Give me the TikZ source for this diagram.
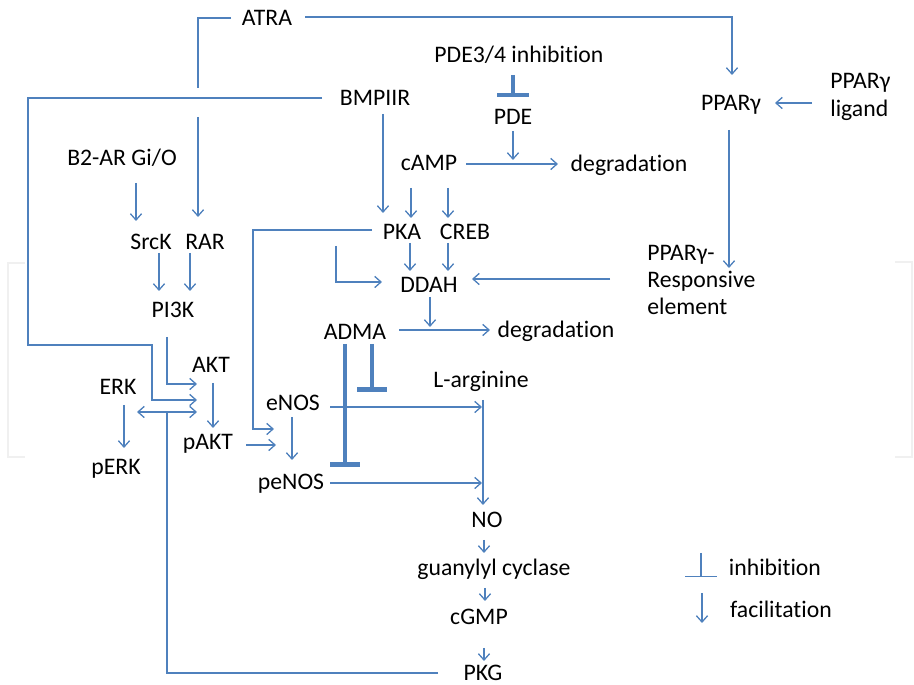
\documentclass[tikz,border=0pt]{standalone}
\usepackage{fontspec}
\setmainfont{Carlito}[Ligatures=NoCommon]
\usepackage{tikz}
\usetikzlibrary{calc,arrows.meta,positioning}
\definecolor{linkblue}{HTML}{4F81BD}
\tikzset{
  lbl/.style={inner sep=0pt, text height=11pt, text depth=3pt,
              font=\fontsize{13.5}{15.6}\selectfont},
  lbls/.style={inner sep=0pt, align=left, font=\fontsize{13.5}{15.6}\selectfont},
  lnk/.style={draw=linkblue, line width=0.75pt},
  fac/.style={lnk, -{Straight Barb[length=3.6pt,width=6.4pt]}},
  facb/.style={lnk, {Straight Barb[length=3.6pt,width=6.4pt]}-{Straight Barb[length=3.6pt,width=6.4pt]}},
  inh/.style={draw=linkblue, line width=2.6pt, -{Bar[width=17pt]}},
}
\begin{document}
\begin{tikzpicture}[x=0.02cm, y=-0.02cm]
    \useasboundingbox (0,0) rectangle (914,685);
    % faint brackets at the sides
    \draw[gray!12, line width=1.7pt] (25,263) -- (8,263) -- (8,457) -- (25,457);
    \draw[gray!12, line width=1.7pt] (895,262) -- (912,262) -- (912,457) -- (895,457);
    % Labels
    \node[lbl] (atra)   at (267,18)  {ATRA};
    \node[lbl] (pdeinh) at (519,55)  {PDE3/4 inhibition};
    \node[lbl] (bmp)    at (375,98)  {BMPIIR};
    \node[lbl] (pde)    at (513,117) {PDE};
    \node[lbl] (ppar)   at (731,103) {PPARγ};
    \node[lbls,anchor=west] (lig) at (830,97) {PPARγ\\ligand};
    \node[lbl] (camp)   at (429,163) {cAMP};
    \node[lbl] (deg1)   at (629,164) {degradation};
    \node[lbl] (b2ar)   at (122,158) {B2-AR Gi/O};
    \node[lbl] (srck)   at (151,242) {SrcK};
    \node[lbl] (rar)    at (205,242) {RAR};
    \node[lbl] (pka)    at (402,232) {PKA};
    \node[lbl] (creb)   at (465,232) {CREB};
    \node[lbls,anchor=west] (ppre) at (647,280) {PPARγ-\\Responsive\\element};
    \node[lbl] (ddah)   at (429,285) {DDAH};
    \node[lbl] (pi3k)   at (173,310) {PI3K};
    \node[lbl] (adma)   at (355,332) {ADMA};
    \node[lbl] (deg2)   at (556,330) {degradation};
    \node[lbl] (akt)    at (211,365) {AKT};
    \node[lbl] (larg)   at (481,380) {L-arginine};
    \node[lbl] (erk)    at (118,387) {ERK};
    \node[lbl] (enos)   at (293,403) {eNOS};
    \node[lbl] (pakt)   at (208,442) {pAKT};
    \node[lbl] (perk)   at (116,467) {pERK};
    \node[lbl] (penos)  at (291,482) {peNOS};
    \node[lbl] (no)     at (487,520) {NO};
    \node[lbl] (gc)     at (494,568) {guanylyl cyclase};
    \node[lbl] (cgmp)   at (479,617) {cGMP};
    \node[lbl] (pkg)    at (483,673) {PKG};
    \node[lbl] (leginh) at (775,568) {inhibition};
    \node[lbl] (legfac) at (781,610) {facilitation};
    % ATRA branches
    \coordinate (gapT) at (198,88);
    \coordinate (gapB) at (198,117);
    \draw[lnk] ($(atra)+(-36,0)$) -| (gapT);
    \draw[fac] (gapB) -- ($(rar)+(-7,-25)$);
    \draw[fac] ($(atra)+(38,-1)$) -| ($(ppar)+(1,-28)$);
    % PPARg side
    \draw[fac] ($(lig.west)+(-18,6)$) -- ($(ppar)+(44,0)$);
    \draw[fac] ($(ppar)+(-2,27)$) -- ($(ppre.west)+(82,-12)$);
    \draw[fac] ($(ppre.west)+(-37,-1)$) -- ($(ddah)+(43,-6)$);
    % PDE / cAMP
    \draw[draw=linkblue, line width=2pt, -{Bar[width=18pt]}] ($(pdeinh)+(-6,20)$) -- ($(pde)+(0,-20)$);
    \draw[fac] ($(pde)+(0,14)$) -- ($(pde |- camp)+(0,-3)$);
    \draw[fac] ($(camp)+(37,1)$) -- ($(deg1)+(-71,0)$);
    \draw[fac] ($(camp)+(-18,25)$) -- ($(pka)+(9,-14)$);
    \draw[fac] ($(camp)+(19,25)$) -- ($(creb)+(-17,-14)$);
    % BMPIIR
    \draw[fac] ($(bmp)+(8,16)$) -- ($(pka)+(-19,-19)$);
    \draw[fac] ($(bmp)+(-53,0)$) -- ++(-294,0) -- ++(0,247) -- ++(124,0)
      |- ($(akt)+(-14,35)$);
    % left cascade
    \draw[fac] ($(b2ar)+(14,25)$) -- ($(srck)+(-15,-21)$);
    \draw[fac] ($(srck)+(8,11)$) -- ($(pi3k)+(-14,-19)$);
    \draw[fac] ($(rar)+(-15,11)$) -- ($(pi3k)+(17,-19)$);
    \draw[fac] ($(pi3k)+(-6,27)$) |- ($(akt)+(-14,19)$);
    \draw[fac] ($(akt)+(2,18)$) -- ($(pakt)+(5,-14)$);
    \draw[facb] ($(erk)+(19,25)$) -- ($(pakt)+(-11,-30)$);
    \draw[fac] ($(erk)+(6,18)$) -- ($(perk)+(8,-19)$);
    \draw[lnk] ($(pkg)+(-45,0)$) -| ($(erk)+(49,26)$);
    % PKA / DDAH
    \draw[fac] ($(pka)+(-30,-2)$) -- ++(-119,0) |- ($(enos)+(-19,26)$);
    \draw[fac] ($(pka)+(8,11)$) -- ($(ddah)+(-19,-14)$);
    \draw[fac] ($(creb)+(-17,11)$) -- ($(ddah)+(19,-14)$);
    \draw[fac] ($(pka)+(-66,14)$) |- ($(ddah)+(-47,-3)$);
    \draw[fac] ($(ddah)+(1,12)$) -- ($(ddah |- adma)+(1,-5)$);
    \draw[fac] ($(adma)+(44,-2)$) -- ($(deg2)+(-66,0)$);
    % eNOS
    \draw[fac] ($(pakt)+(38,3)$) -- ($(penos)+(-15,-37)$);
    \draw[fac] ($(enos)+(-1,14)$) -- ($(penos)+(1,-22)$);
    \draw[fac] ($(enos)+(37,4)$) -- ($(larg)+(1,27)$);
    \draw[fac] ($(penos)+(39,1)$) -- ($(larg |- penos)+(1,1)$);
    \draw[inh] ($(adma)+(-10,12)$) -- ($(penos)+(54,-15)$);
    \draw[inh] ($(adma)+(17,12)$) -- ($(enos)+(79,-11)$);
    % NO cascade
    \draw[fac] ($(larg)+(2,20)$) -- ($(no)+(-4,-15)$);
    \draw[fac] ($(no)+(-3,20)$) -- ($(gc)+(-10,-15)$);
    \draw[fac] ($(gc)+(-9,20)$) -- ($(cgmp)+(6,-16)$);
    \draw[fac] ($(cgmp)+(5,31)$) -- ($(pkg)+(1,-12)$);
    % Legend
    \draw[lnk, -{Bar[width=18pt]}] ($(leginh)+(-74,-15)$) -- ($(leginh)+(-74,9)$);
    \draw[fac] ($(legfac)+(-79,-17)$) -- ($(legfac)+(-79,13)$);
\end{tikzpicture}
\end{document}
